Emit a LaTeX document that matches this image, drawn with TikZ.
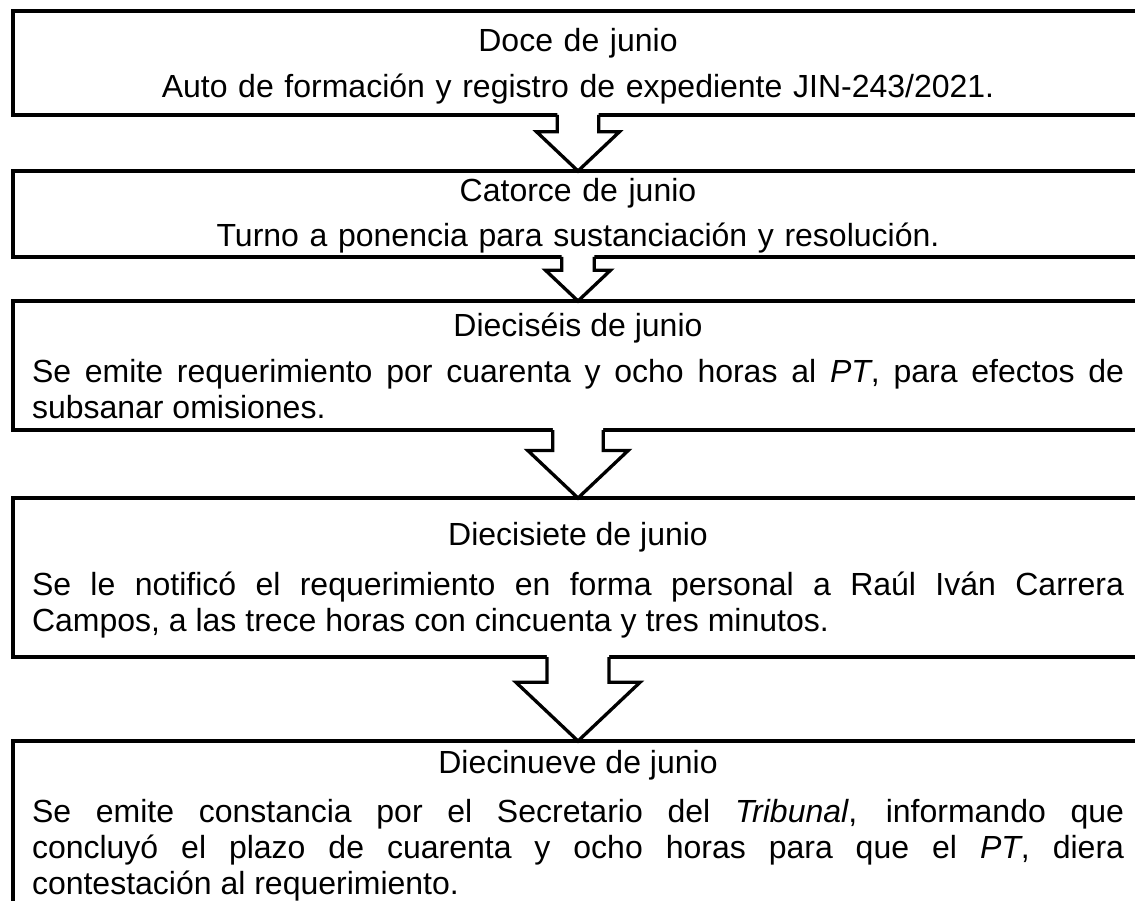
\documentclass[tikz,border=0pt]{standalone}
\usepackage{fontspec}
\setmainfont{Liberation Sans}
\usetikzlibrary{calc}

\newcommand{\flecha}[2]{%
\fill[white] let \p1=(#1.south), \p2=(#2.north), \n1={\y1-\y2} in
    ({\x1-0.37*\n1*1pt},{\y1+2.5pt}) -- ({\x1-0.37*\n1*1pt},{\y1-0.3*\n1*1pt})
    -- ({\x1-0.74*\n1*1pt},{\y1-0.3*\n1*1pt}) -- (\x1,\y2)
    -- ({\x1+0.74*\n1*1pt},{\y1-0.3*\n1*1pt}) -- ({\x1+0.37*\n1*1pt},{\y1-0.3*\n1*1pt})
    -- ({\x1+0.37*\n1*1pt},{\y1+2.5pt}) -- cycle;
\draw[flecha] let \p1=(#1.south), \p2=(#2.north), \n1={\y1-\y2} in
    ({\x1-0.37*\n1*1pt},\y1) -- ({\x1-0.37*\n1*1pt},{\y1-0.3*\n1*1pt})
    -- ({\x1-0.74*\n1*1pt},{\y1-0.3*\n1*1pt}) -- (\x1,\y2)
    -- ({\x1+0.74*\n1*1pt},{\y1-0.3*\n1*1pt}) -- ({\x1+0.37*\n1*1pt},{\y1-0.3*\n1*1pt})
    -- ({\x1+0.37*\n1*1pt},\y1);
}

\begin{document}
\begin{tikzpicture}[x=1pt,y=-1pt,
        caja/.style={draw,line width=3.5pt,anchor=base,text width=1092pt,
            inner xsep=19pt,inner ysep=0pt,outer sep=0pt,align=justify,
            font=\fontsize{32}{36}\selectfont},
        flecha/.style={line width=3.3pt,line join=miter}]
\useasboundingbox (0,0) rectangle (1135,901);
\clip (0,0) rectangle (1135,901);

\node[caja,align=center,text height=41pt,text depth=63pt] (doce) at (578,52)
    {Doce de junio\par\vspace{10pt}Auto de formación y registro de expediente JIN-243/2021.};
\node[caja,align=center,text height=31pt,text depth=55pt] (catorce) at (578,202)
    {Catorce de junio\par\vspace{9pt}Turno a ponencia para sustanciación y resolución.};
\node[caja,text height=35pt,text depth=94pt] (dieciseis) at (578,336)
    {{\centering Dieciséis de junio\par}\vspace{10pt}Se emite requerimiento por cuarenta y ocho horas al \textit{PT}, para efectos de\linebreak subsanar omisiones.};
\node[caja,text height=47pt,text depth=112pt] (diecisiete) at (578,545)
    {{\centering Diecisiete de junio\par}\vspace{14pt}Se le notificó el requerimiento en forma personal a Raúl Iván Carrera\linebreak Campos, a las trece horas con cincuenta y tres minutos.};
\node[caja,text height=32pt,text depth=167pt] (diecinueve) at (578,773)
    {{\centering Diecinueve de junio\par}\vspace{13pt}Se emite constancia por el Secretario del \textit{Tribunal}, informando que\linebreak concluyó el plazo de cuarenta y ocho horas para que el \textit{PT}, diera\linebreak contestación al requerimiento.};

\flecha{doce}{catorce}
\flecha{catorce}{dieciseis}
\flecha{dieciseis}{diecisiete}
\flecha{diecisiete}{diecinueve}

\end{tikzpicture}
\end{document}
